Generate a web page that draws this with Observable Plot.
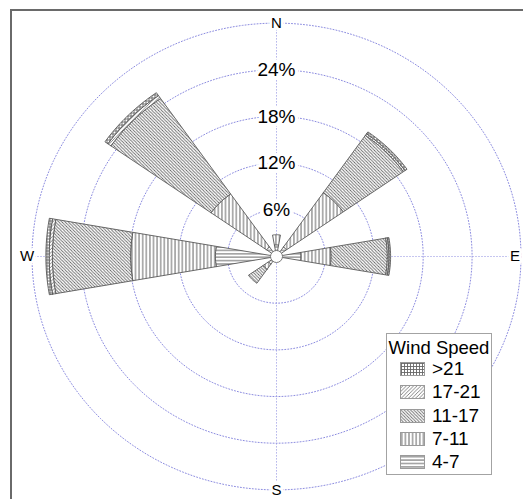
<!DOCTYPE html>
<html><head><meta charset="utf-8">
<script src="https://cdn.jsdelivr.net/npm/d3@7"></script>
<script src="https://cdn.jsdelivr.net/npm/@observablehq/plot@0.6"></script>
<style>
html,body{margin:0;padding:0;background:#fff;overflow:hidden;}
#wrap{position:relative;width:523px;height:499px;overflow:hidden;font-family:"Liberation Sans",Arial,sans-serif;background:#fff;}
#chart{position:absolute;left:0;top:0;}
#frame{position:absolute;left:10px;top:9px;width:800px;height:800px;border-left:2px solid #6a6a6a;border-top:2px solid #6a6a6a;}
#legend{position:absolute;left:386px;top:333px;width:106px;height:142px;border:1.5px solid #a3a3a3;background:#fff;box-sizing:border-box;}
#legend .title{position:absolute;left:0;width:100%;text-align:center;top:3px;font-size:18.5px;line-height:22px;color:#000;}
#legend .row{position:absolute;left:13px;height:20px;display:flex;align-items:center;font-size:19px;color:#000;}
#legend .row svg{margin-right:7px;display:block;}
</style></head>
<body>
<svg width="0" height="0" style="position:absolute">
<defs>
<pattern id="pat4" patternUnits="userSpaceOnUse" width="4" height="3.4"><rect width="4" height="3.4" fill="#fff"/><path d="M0,1.7H4" stroke="#666" stroke-width="1"/></pattern>
<pattern id="pat7" patternUnits="userSpaceOnUse" width="3.6" height="4"><rect width="3.6" height="4" fill="#fff"/><path d="M1.8,0V4" stroke="#666" stroke-width="1"/></pattern>
<pattern id="pat11" patternUnits="userSpaceOnUse" width="3.2" height="3.2"><rect width="3.2" height="3.2" fill="#fff"/><path d="M0,0L3.2,3.2M-1,2.2L1,4.2M2.2,-1L4.2,1" stroke="#6a6a6a" stroke-width="0.9"/></pattern>
<pattern id="pat17" patternUnits="userSpaceOnUse" width="3.6" height="3.6"><rect width="3.6" height="3.6" fill="#fff"/><path d="M0,3.6L3.6,0M-1,1L1,-1M2.6,4.6L4.6,2.6" stroke="#777" stroke-width="0.9"/></pattern>
<pattern id="pat21" patternUnits="userSpaceOnUse" width="3" height="3"><rect width="3" height="3" fill="#fff"/><path d="M1.5,0V3M0,1.5H3" stroke="#666" stroke-width="0.9"/></pattern>
</defs></svg>
<div id="wrap"><div id="chart"></div><div id="frame"></div><div id="legend"></div></div>
<script>
// ---- data ----
const directions = ["N", "NE", "E", "SW", "W", "NW"];
const speedBins = ["4-7", "7-11", "11-17", "17-21", ">21"];
const speed4to7   = [1.5, 1.5, 3.0, 1.2, 7.5, 1.5];
const speed7to11  = [1.3, 8.5, 3.7, 0.8, 10.4, 8.3];
const speed11to17 = [0.0, 9.0, 6.9, 2.2, 9.6, 15.0];
const speed17to21 = [0.0, 0.25, 0.2, 0.0, 0.4, 0.45];
const speedOver21 = [0.0, 0.3, 0.2, 0.0, 0.4, 0.45];
const ringValues = [6, 12, 18, 24, 30];
const ringLabels = ["6%", "12%", "18%", "24%"];
const compassLabels = ["N", "E", "S", "W"];
const legendOrder = [">21", "17-21", "11-17", "7-11", "4-7"];

const binSeries = [speed4to7, speed7to11, speed11to17, speed17to21, speedOver21];
const patternOf = {"4-7": "url(#pat4)", "7-11": "url(#pat7)", "11-17": "url(#pat11)", "17-21": "url(#pat17)", ">21": "url(#pat21)"};
const compassAngle = {N: 0, NE: 45, E: 90, SE: 135, S: 180, SW: 225, W: 270, NW: 315};
const rad = Math.PI / 180;
const halfWidth = 10;

// build wedge polygons in data (percent) space
const wedgeRows = [];
directions.forEach((d, i) => {
  let r0 = 0;
  const a = compassAngle[d];
  speedBins.forEach((b, k) => {
    const v = binSeries[k][i];
    if (v <= 0) return;
    const r1 = r0 + v;
    const id = d + "-" + b;
    const pts = [];
    const n = 12;
    for (let j = 0; j <= n; j++) { const t = (a - halfWidth + 2 * halfWidth * j / n) * rad; pts.push([r0 * Math.sin(t), r0 * Math.cos(t)]); }
    for (let j = n; j >= 0; j--) { const t = (a - halfWidth + 2 * halfWidth * j / n) * rad; pts.push([r1 * Math.sin(t), r1 * Math.cos(t)]); }
    pts.push(pts[0]);
    pts.forEach(p => wedgeRows.push({x: p[0], y: p[1], id, bin: b}));
    r0 = r1;
  });
});

const ringRows = [];
ringValues.forEach(r => { for (let j = 0; j <= 180; j++) { const t = j * 2 * Math.PI / 180; ringRows.push({x: r * Math.sin(t), y: r * Math.cos(t), ring: r}); } });

const ringLabelRows = ringLabels.map((l, i) => ({label: l, r: ringValues[i]}));
const outer = ringValues[ringValues.length - 1];
const compassRows = compassLabels.map(l => ({label: l, x: outer * Math.sin(compassAngle[l] * rad), y: outer * Math.cos(compassAngle[l] * rad)}));

// scales: center at (276,256); 8.15 px/% horizontally, 7.78 px/% vertically
const W = 523, H = 499, cx = 276, cy = 256, kx = 8.15, ky = 7.78;
const ringColor = "#8c8ce0";
const dash = "1,2";
const compassStyle = {x: "x", y: "y", text: "label", fontSize: 15, fill: "black", stroke: "white", strokeWidth: 6, paintOrder: "stroke"};

const marks = [
  Plot.ruleY([0], {x1: -outer, x2: outer, stroke: ringColor, strokeWidth: 1, strokeDasharray: dash}),
  Plot.ruleX([0], {y1: -outer, y2: outer, stroke: ringColor, strokeWidth: 1, strokeDasharray: dash}),
  Plot.line(ringRows, {x: "x", y: "y", z: "ring", stroke: ringColor, strokeWidth: 1, strokeDasharray: dash, curve: "linear"})
];
speedBins.forEach(b => {
  marks.push(Plot.line(wedgeRows.filter(r => r.bin === b), {x: "x", y: "y", z: "id", fill: patternOf[b], stroke: "#5a5a5a", strokeWidth: 0.9, strokeLinejoin: "miter", curve: "linear"}));
});
marks.push(
  Plot.dot([{x: 0, y: 0}], {x: "x", y: "y", r: 6, fill: "white", stroke: "#777", strokeWidth: 1}),
  Plot.text(ringLabelRows, {x: () => 0, y: "r", text: "label", fontSize: 19, fill: "black", stroke: "white", strokeWidth: 7, paintOrder: "stroke"}),
  Plot.text(compassRows.filter(d => d.label === "N" || d.label === "S"), compassStyle),
  Plot.text(compassRows.filter(d => d.label === "W"), {...compassStyle, dx: -5}),
  Plot.text(compassRows.filter(d => d.label === "E"), {...compassStyle, dx: -6})
);

const chart = Plot.plot({
  width: W, height: H,
  margin: 0,
  x: {domain: [-cx / kx, (W - cx) / kx], range: [0, W], axis: null},
  y: {domain: [-(H - cy) / ky, cy / ky], range: [H, 0], axis: null},
  style: {fontFamily: "'Liberation Sans', Arial, sans-serif", background: "transparent"},
  marks
});
document.getElementById("chart").appendChild(chart);

// legend
const leg = document.getElementById("legend");
const title = document.createElement("div");
title.className = "title"; title.textContent = "Wind Speed";
leg.appendChild(title);
legendOrder.forEach((b, i) => {
  const row = document.createElement("div");
  row.className = "row";
  row.style.top = (25 + i * 23.3) + "px";
  row.innerHTML = `<svg width="25" height="14"><rect x="0.5" y="0.5" width="24" height="13" fill="${patternOf[b]}" stroke="#9a9a9a" stroke-width="1"/></svg><span>${b}</span>`;
  leg.appendChild(row);
});
</script>
</body></html>
